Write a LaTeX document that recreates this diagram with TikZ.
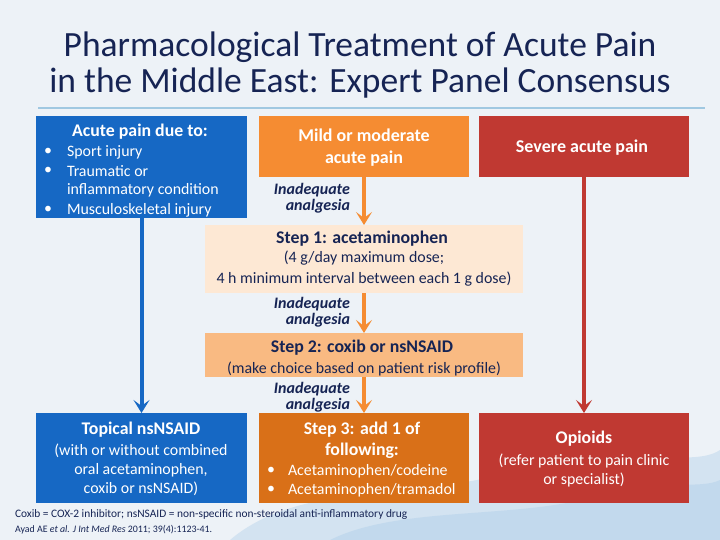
\documentclass[tikz,border=0pt]{standalone}
\usepackage{fontspec}
\setmainfont{Carlito}
\usetikzlibrary{arrows.meta}
\definecolor{bgc}{RGB}{237,242,247}
\definecolor{blueb}{RGB}{22,104,196}
\definecolor{orangeb}{RGB}{245,140,50}
\definecolor{redb}{RGB}{192,57,50}
\definecolor{stepone}{RGB}{253,232,212}
\definecolor{steptwo}{RGB}{249,186,130}
\definecolor{stepthree}{RGB}{217,112,24}
\definecolor{navy}{RGB}{22,36,84}
\definecolor{rulec}{RGB}{160,200,225}
\definecolor{wash}{RGB}{120,175,220}
\tikzset{
  box/.style={draw=none, inner sep=0pt, outer sep=0pt, anchor=north west},
  txt/.style={inner sep=0pt, outer sep=0pt},
  body/.style={font=\fontsize{15.9}{19}\selectfont},
  bodyb/.style={font=\fontsize{17.8}{21}\selectfont\bfseries},
  lbl/.style={txt, navy, align=right, font=\fontsize{16}{16}\selectfont\bfseries\itshape},
  conn/.style={line width=4pt, -{Stealth[length=13pt,width=16pt,inset=6pt]}},
}
\begin{document}
\begin{tikzpicture}[x=1pt,y=-1pt]
\useasboundingbox (0,0) rectangle (720,540);
\fill[bgc] (0,0) rectangle (720,540);
% watercolour wash at the bottom
\fill[wash, opacity=0.22] (230,540) .. controls (300,480) and (420,500) .. (520,470) .. controls (620,440) and (690,470) .. (720,450) -- (720,540) -- cycle;
\fill[wash, opacity=0.18] (330,540) .. controls (400,505) and (520,520) .. (600,495) .. controls (660,478) and (700,490) .. (720,480) -- (720,540) -- cycle;
% title
\node[txt, navy, align=center, font=\fontsize{35.5}{36}\selectfont] (title) at (360,65)
  {Pharmacological Treatment of Acute Pain\\in the Middle East: Expert Panel Consensus};
\draw[rulec, line width=1.2pt] (38,108) -- (705,108);

% boxes
\node[box, fill=blueb, minimum width=211pt, minimum height=102pt] (cause) at (36,116) {};
\node[box, fill=orangeb, minimum width=210pt, minimum height=61pt] (mild) at (259,116) {};
\node[box, fill=redb, minimum width=210pt, minimum height=61pt] (severe) at (479,116) {};
\node[box, fill=stepone, minimum width=318pt, minimum height=68pt] (step1) at (205,225) {};
\node[box, fill=steptwo, minimum width=318pt, minimum height=44pt] (step2) at (205,333) {};
\node[box, fill=stepthree, minimum width=210pt, minimum height=90pt] (step3) at (259,413) {};
\node[box, fill=blueb, minimum width=211pt, minimum height=90pt] (topical) at (36,413) {};
\node[box, fill=redb, minimum width=210pt, minimum height=90pt] (opioids) at (479,413) {};

% connectors
\draw[conn, blueb] (cause.south) -- (topical.north);
\draw[conn, orangeb] (mild.south) -- (step1.north);
\draw[conn, orangeb] (step1.south) -- (step2.north);
\draw[conn, orangeb] (step2.south) -- (step3.north);
\draw[conn, redb] (severe.south) -- (opioids.north);

% cause text
\node[txt, white, bodyb] (causeh) at (140,131.5) {Acute pain due to:};
\foreach \yy/\nm in {152/ca,171/cb,210/cd}{
  \node[txt, white, body] (b\nm) at (48,\yy) {•};
}
\node[txt, white, body, anchor=west] (ca) at (67,152) {Sport injury};
\node[txt, white, body, anchor=west] (cb) at (67,171) {Traumatic or};
\node[txt, white, body, anchor=west] (cc) at (67,190) {inflammatory condition};
\node[txt, white, body, anchor=west] (cd) at (67,210) {Musculoskeletal injury};

% mild / severe
\node[txt, white, align=center, font=\fontsize{18}{21.5}\selectfont\bfseries] (mildt) at (364,147.5) {Mild or moderate\\acute pain};
\node[txt, white, font=\fontsize{18}{21}\selectfont\bfseries] (severet) at (582,148) {Severe acute pain};

% step 1
\node[txt, navy, bodyb] (s1h) at (362,239) {Step 1: acetaminophen};
\node[txt, navy, body] (s1a) at (364,258.5) {(4 g/day maximum dose;};
\node[txt, navy, body] (s1b) at (364,279) {4 h minimum interval between each 1 g dose)};

% step 2
\node[txt, navy, bodyb] (s2h) at (362,348) {Step 2: coxib or nsNSAID};
\node[txt, navy, body] (s2a) at (364,369) {(make choice based on patient risk profile)};

% step 3
\node[txt, white, align=center, font=\fontsize{17.8}{21}\selectfont\bfseries] (s3h) at (362,440) {Step 3: add 1 of\\following:};
\node[txt, white, body] (s3ba) at (271,471) {•};
\node[txt, white, body] (s3bb) at (271,490) {•};
\node[txt, white, body, anchor=west] (s3a) at (288,471) {Acetaminophen/codeine};
\node[txt, white, body, anchor=west] (s3b) at (288,490) {Acetaminophen/tramadol};

% topical
\node[txt, white, bodyb] (toph) at (141,430) {Topical nsNSAID};
\node[txt, white, align=center, font=\fontsize{15.9}{19.2}\selectfont] (topt) at (141,470) {(with or without combined\\oral acetaminophen,\\coxib or nsNSAID)};

% opioids
\node[txt, white, bodyb] (oph) at (584,439) {Opioids};
\node[txt, white, align=center, font=\fontsize{15.9}{19.5}\selectfont] (opt) at (584,470.5) {(refer patient to pain clinic\\or specialist)};

% inadequate analgesia labels
\node[lbl, anchor=east] (ia1) at (350,198) {Inadequate\hspace{6pt}\\analgesia};
\node[lbl, anchor=east] (ia2) at (350,312) {Inadequate\hspace{6pt}\\analgesia};
\node[lbl, anchor=east] (ia3) at (350,397) {Inadequate\hspace{6pt}\\analgesia};

% footnotes
\node[txt, navy, anchor=west, font=\fontsize{11.4}{13}\selectfont] (fn1) at (15,515)
  {Coxib = COX-2 inhibitor; nsNSAID = non-specific non-steroidal anti-inflammatory drug};
\node[txt, navy, anchor=west, font=\fontsize{9.9}{11}\selectfont] (fn2) at (15,529.5)
  {Ayad AE \textit{et al.} \textit{J Int Med Res} 2011; 39(4):1123-41.};
\end{tikzpicture}
\end{document}
